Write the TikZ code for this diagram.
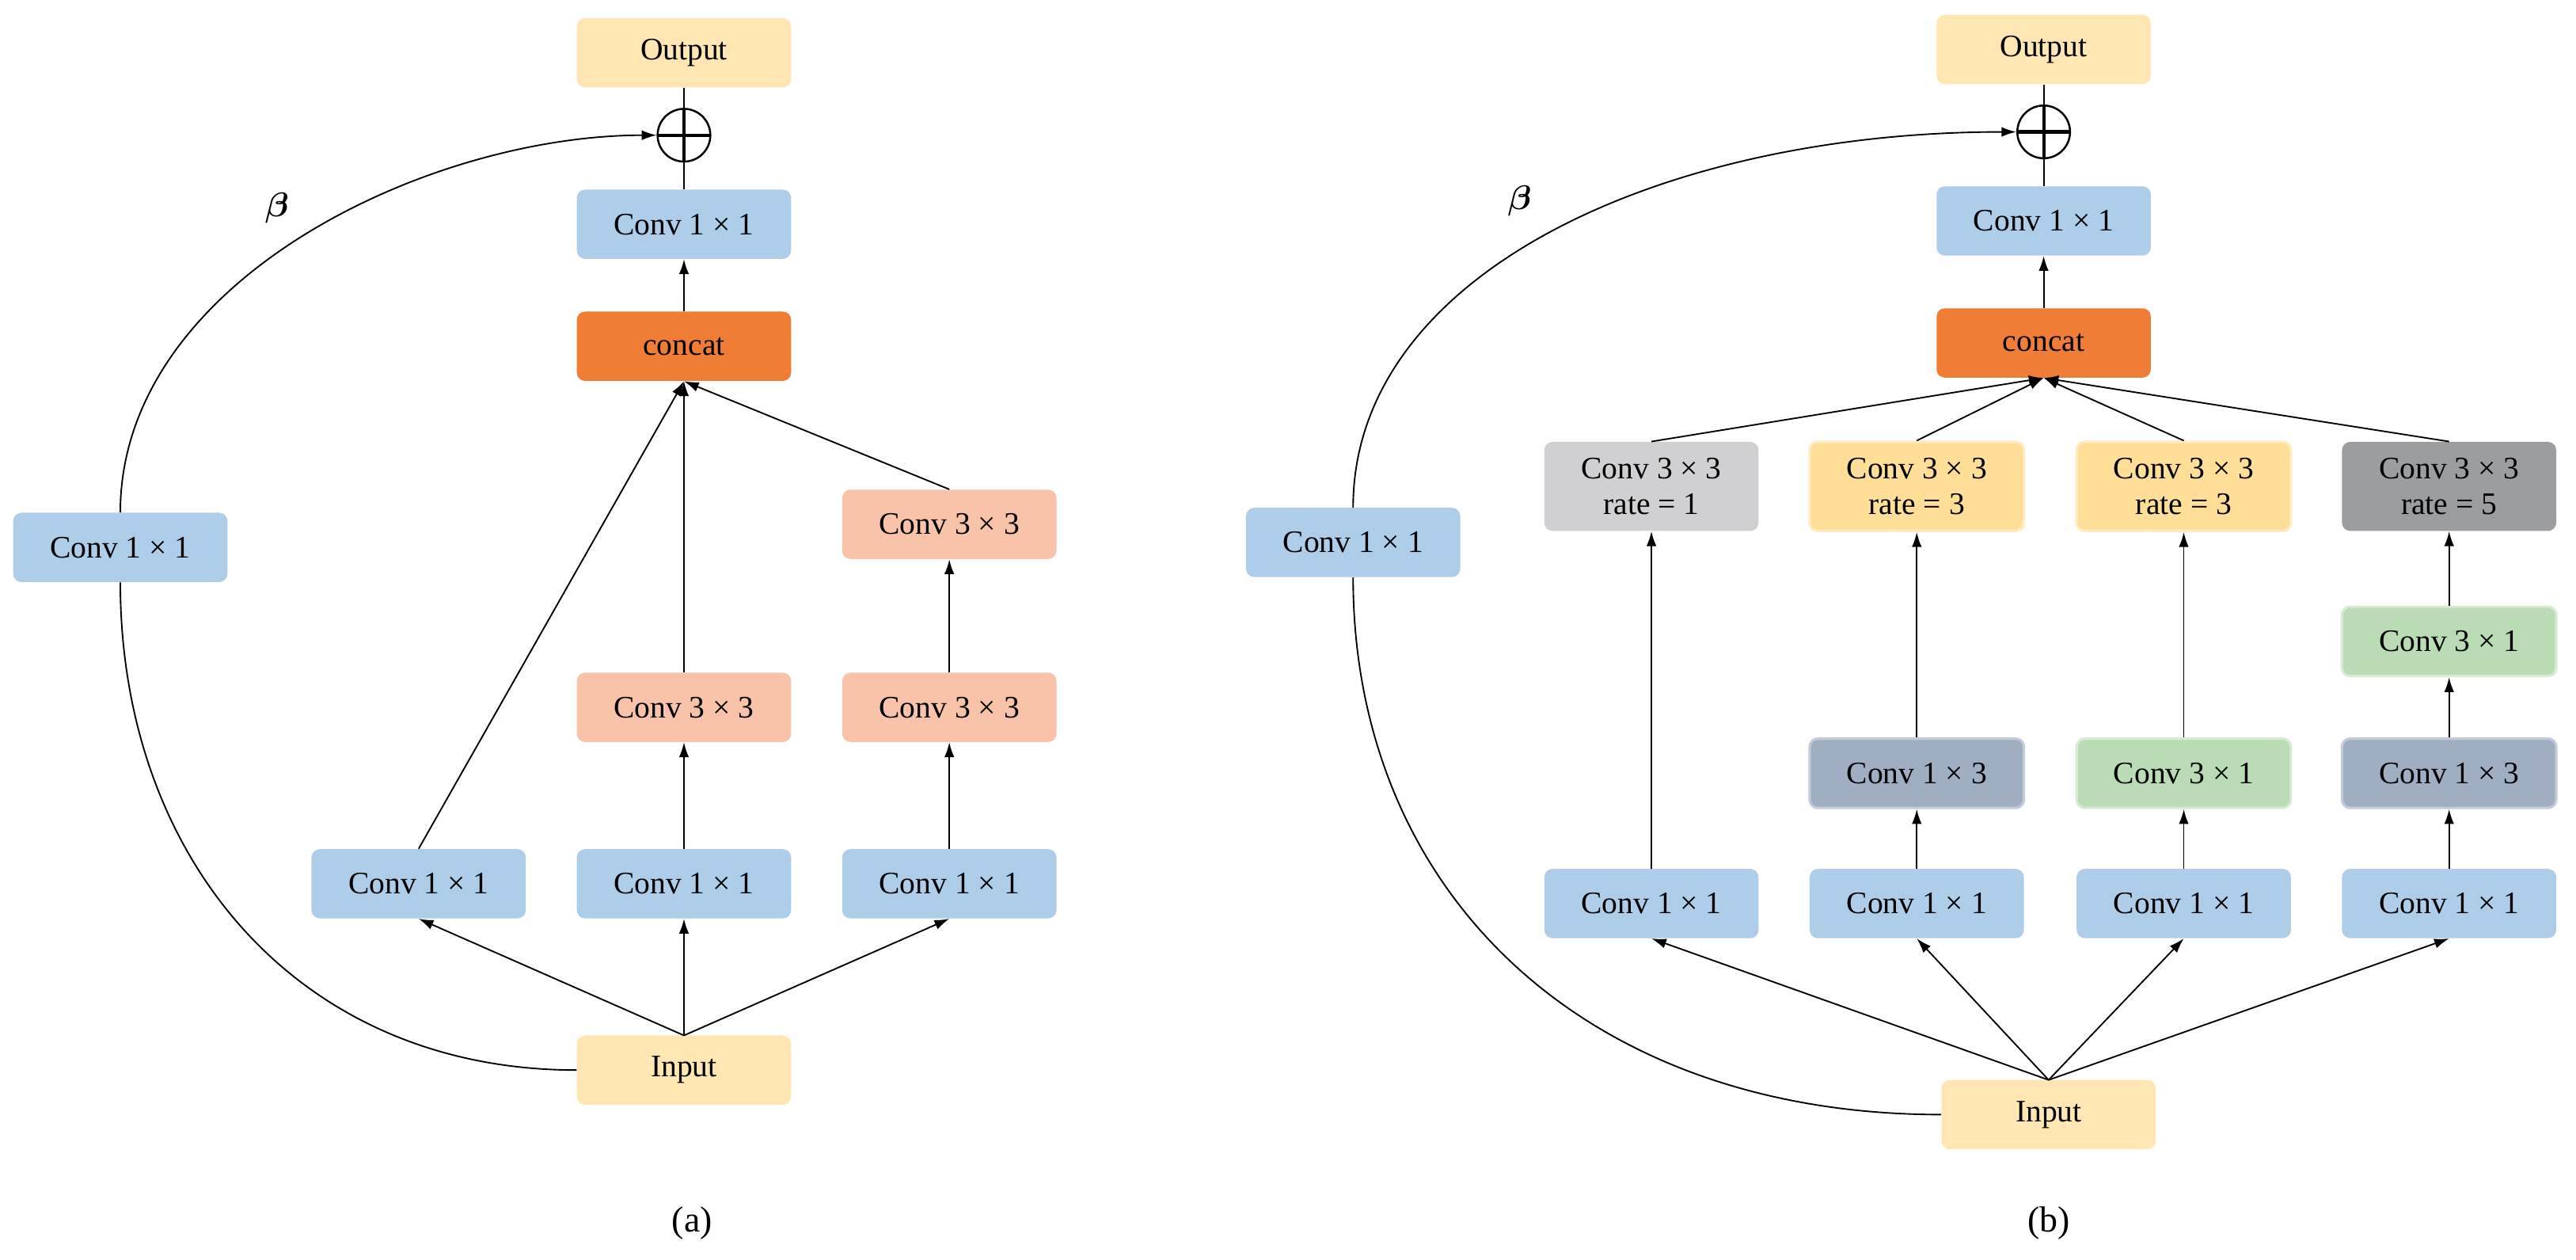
\documentclass[tikz,border=0pt]{standalone}
\usepackage{amsmath}
\usepackage{bm}
\usepackage{fontspec}
\setmainfont{Liberation Serif}
\usetikzlibrary{arrows.meta}
\definecolor{cblue}{HTML}{AECDE8}
\definecolor{cyel}{HTML}{FFE6B2}
\definecolor{corange}{HTML}{F07D35}
\definecolor{csalmon}{HTML}{F8C3A8}
\definecolor{clgray}{HTML}{D0D0D2}
\definecolor{cyel2}{HTML}{FFDE98}
\definecolor{cyel2b}{HTML}{FFEBC0}
\definecolor{cdgray}{HTML}{9C9DA0}
\definecolor{cgreen}{HTML}{BADCB4}
\definecolor{cgreenb}{HTML}{D6EBD2}
\definecolor{cslate}{HTML}{A0AEC2}
\definecolor{cslateb}{HTML}{C2CBD9}
\begin{document}
\begin{tikzpicture}[x=1pt,y=-1pt,
  box/.style={rounded corners=5pt,minimum width=130pt,minimum height=42pt,inner sep=0pt,font=\fontsize{19}{22}\selectfont,align=center},
  tall/.style={box,minimum height=54pt},
  arr/.style={-{Latex[length=9pt,width=6pt]},line width=0.9pt},
  ln/.style={line width=0.9pt},
  osum/.style={circle,draw,line width=1.2pt,minimum size=32pt,inner sep=0pt,path picture={\draw[line width=2pt] (path picture bounding box.north)--(path picture bounding box.south) (path picture bounding box.west)--(path picture bounding box.east);}},
  lab/.style={font=\fontsize{22}{26}\selectfont}]
\useasboundingbox (0,0) rectangle (1563,764);
% (a)
\node[box,fill=cyel] (aout) at (415,32) {Output};
\node[osum] (asum) at (415,82) {};
\node[box,fill=cblue] (atop) at (415,136) {Conv 1 × 1};
\node[box,fill=corange] (acat) at (415,210) {concat};
\node[box,fill=cblue] (aleft) at (73,332) {Conv 1 × 1};
\node[box,fill=csalmon] (ar3) at (576,318) {Conv 3 × 3};
\node[box,fill=csalmon] (am2) at (415,429) {Conv 3 × 3};
\node[box,fill=csalmon] (ar2) at (576,429) {Conv 3 × 3};
\node[box,fill=cblue] (ab1) at (254,536) {Conv 1 × 1};
\node[box,fill=cblue] (ab2) at (415,536) {Conv 1 × 1};
\node[box,fill=cblue] (ab3) at (576,536) {Conv 1 × 1};
\node[box,fill=cyel] (ain) at (415,649) {Input};
\node[lab] (abeta) at (168,126) {$\bm{\beta}$};
\node[lab] (alab) at (420,742) {(a)};
\coordinate (ainT) at (415,628);
\draw[arr] (ainT) -- (ab1.south);
\draw[arr] (ainT) -- (ab2.south);
\draw[arr] (ainT) -- (ab3.south);
\draw[arr] (ab1.north) -- (acat.south);
\draw[arr] (ab2.north) -- (am2.south);
\draw[arr] (am2.north) -- (acat.south);
\draw[arr] (ab3.north) -- (ar2.south);
\draw[arr] (ar2.north) -- (ar3.south);
\draw[arr] (ar3.north) -- (acat.south);
\draw[arr] (acat.north) -- (atop.south);
\draw[ln] (atop.north) -- (asum.south);
\draw[ln] (asum.north) -- (aout.south);
\draw[ln] (ain.west) .. controls (180,649) and (73,520) .. (aleft.south);
\draw[arr] (aleft.north) .. controls (73,170) and (260,82) .. (asum.west);
% (b)
\node[box,fill=cyel] (bout) at (1240,30) {Output};
\node[osum] (bsum) at (1240,80) {};
\node[box,fill=cblue] (btop) at (1240,134) {Conv 1 × 1};
\node[box,fill=corange] (bcat) at (1240,208) {concat};
\node[box,fill=cblue] (bleft) at (821,329) {Conv 1 × 1};
\node[tall,fill=clgray] (br1) at (1002,295) {Conv 3 × 3\\rate = 1};
\node[tall,fill=cyel2,draw=cyel2b,line width=1.5pt] (br2) at (1163,295) {Conv 3 × 3\\rate = 3};
\node[tall,fill=cyel2,draw=cyel2b,line width=1.5pt] (br3) at (1325,295) {Conv 3 × 3\\rate = 3};
\node[tall,fill=cdgray] (br4) at (1486,295) {Conv 3 × 3\\rate = 5};
\node[box,fill=cgreen,draw=cgreenb,line width=1.5pt] (bg4) at (1486,389) {Conv 3 × 1};
\node[box,fill=cslate,draw=cslateb,line width=1.5pt] (bm2) at (1163,469) {Conv 1 × 3};
\node[box,fill=cgreen,draw=cgreenb,line width=1.5pt] (bm3) at (1325,469) {Conv 3 × 1};
\node[box,fill=cslate,draw=cslateb,line width=1.5pt] (bm4) at (1486,469) {Conv 1 × 3};
\node[box,fill=cblue] (bb1) at (1002,548) {Conv 1 × 1};
\node[box,fill=cblue] (bb2) at (1163,548) {Conv 1 × 1};
\node[box,fill=cblue] (bb3) at (1325,548) {Conv 1 × 1};
\node[box,fill=cblue] (bb4) at (1486,548) {Conv 1 × 1};
\node[box,fill=cyel] (bin) at (1243,676) {Input};
\node[lab] (bbeta) at (922,122) {$\bm{\beta}$};
\node[lab] (blab) at (1243,742) {(b)};
\coordinate (binT) at (1243,655);
\foreach \n in {bb1,bb2,bb3,bb4} \draw[arr] (binT) -- (\n.south);
\draw[arr] (bb1.north) -- (br1.south);
\draw[arr] (bb2.north) -- (bm2.south);
\draw[arr] (bm2.north) -- (br2.south);
\draw[arr] (bb3.north) -- (bm3.south);
\draw[arr] (bm3.north) -- (br3.south);
\draw[arr] (bb4.north) -- (bm4.south);
\draw[arr] (bm4.north) -- (bg4.south);
\draw[arr] (bg4.north) -- (br4.south);
\foreach \n in {br1,br2,br3,br4} \draw[arr] (\n.north) -- (bcat.south);
\draw[arr] (bcat.north) -- (btop.south);
\draw[ln] (btop.north) -- (bsum.south);
\draw[ln] (bsum.north) -- (bout.south);
\draw[ln] (bin.west) .. controls (960,676) and (821,540) .. (bleft.south);
\draw[arr] (bleft.north) .. controls (821,165) and (1010,80) .. (bsum.west);
\end{tikzpicture}
\end{document}
